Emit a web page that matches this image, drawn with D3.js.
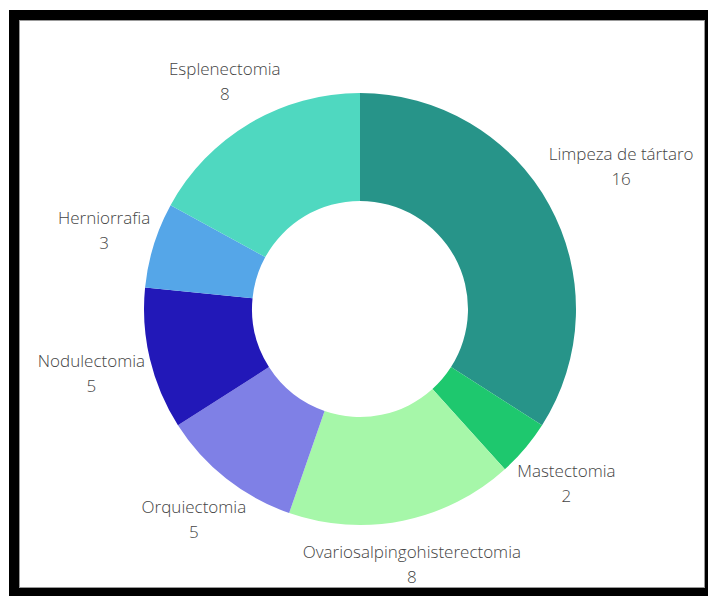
<!DOCTYPE html>
<html>
<head>
<meta charset="utf-8">
<script src="https://cdn.jsdelivr.net/npm/d3@7"></script>
<style>
  html, body { margin: 0; padding: 0; background: #fff; overflow: hidden; }
  #frame {
    position: absolute; left: 9px; top: 10px;
    width: 720px; height: 600px; background: #000;
  }
  #chart {
    position: absolute; left: 10px; top: 10px;
    width: 686px; height: 568px; background: #fff;
    border: 1px solid #999; box-sizing: border-box;
  }
  text { font-family: "Open Sans", sans-serif; font-weight: 300; }
</style>
</head>
<body>
<div id="frame"><div id="chart"></div></div>
<script>
// Slice data, clockwise from 12 o'clock
const categories = ["Limpeza de tártaro", "Mastectomia", "Ovariosalpingohisterectomia",
    "Orquiectomia", "Nodulectomia", "Herniorrafia", "Esplenectomia"];
const counts = [16, 2, 8, 5, 5, 3, 8];
const colors = ["#279489", "#1ec86e", "#a6f7a9", "#7f80e6", "#2218b8", "#55a6e8", "#4fd8c0"];

const width = 686, height = 568;
const cx = 340, cy = 288;       // centre inside the white panel
const outerR = 216, innerR = 108;

const data = categories.map((c, i) => ({ name: c, value: counts[i], color: colors[i] }));

const svg = d3.select("#chart")
    .append("svg")
    .attr("width", width)
    .attr("height", height);

const g = svg.append("g")
    .attr("transform", `translate(${cx},${cy})`);

const pie = d3.pie()
    .value(d => d.value)
    .sort(null);

const arc = d3.arc()
    .innerRadius(innerR)
    .outerRadius(outerR);

const arcs = pie(data);

g.selectAll(".slice")
    .data(arcs)
    .enter()
    .append("path")
    .attr("class", "slice")
    .attr("d", arc)
    .attr("fill", d => d.data.color);

// Outside labels: name + value, pushed out past the ring by their box size
const labels = g.selectAll(".label")
    .data(arcs)
    .enter()
    .append("g")
    .attr("class", "label");

labels.append("text")
    .attr("text-anchor", "middle")
    .attr("y", -5)
    .attr("font-size", 17)
    .attr("fill", "#444")
    .text(d => d.data.name);

labels.append("text")
    .attr("text-anchor", "middle")
    .attr("y", 20)
    .attr("font-size", 17)
    .attr("fill", "#444")
    .text(d => d.data.value);

labels.each(function(d) {
    const bb = this.getBBox();
    const a = (d.startAngle + d.endAngle) / 2;
    const s = Math.abs(Math.sin(a)), c = Math.abs(Math.cos(a));
    // projected half-extent of the label box along the slice direction
    const q = s * bb.width / 2 + c * bb.height / 2;
    const t = outerR - 12 + 1.25 * q;
    const midY = bb.y + bb.height / 2;
    d3.select(this).attr("transform",
        `translate(${t * Math.sin(a)},${-t * Math.cos(a) - midY})`);
});
</script>
</body>
</html>
